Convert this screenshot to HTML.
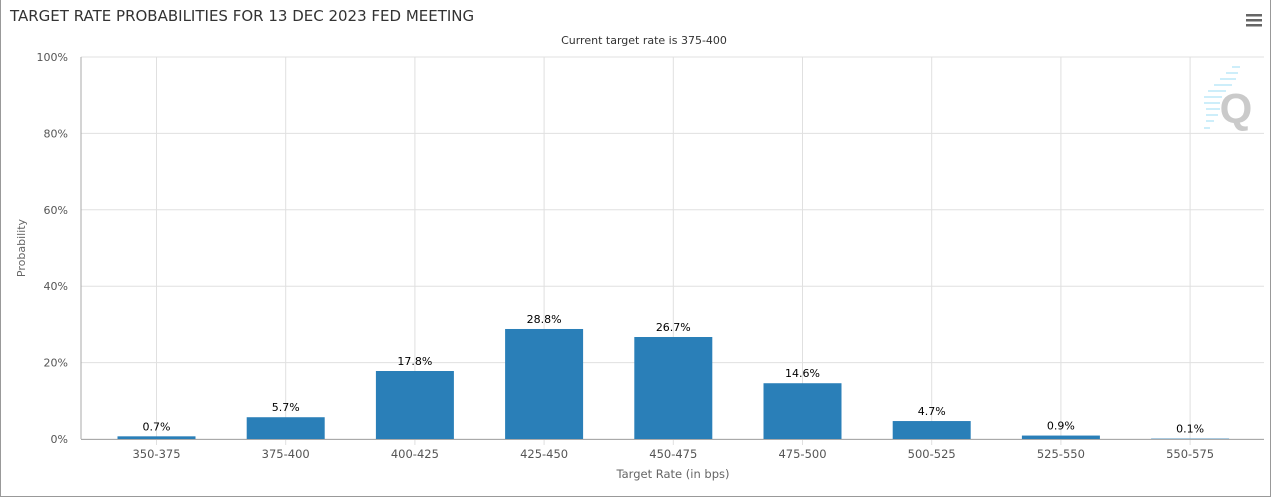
<!DOCTYPE html>
<html><head><meta charset="utf-8"><style>
body{margin:0;background:#fff;font-family:"DejaVu Sans","Liberation Sans",sans-serif;}
#wrap{position:absolute;left:0;top:0;width:1269px;height:496px;border-left:1px solid #999;border-right:1px solid #999;border-bottom:1px solid #999;border-top:0;}
</style></head><body>
<div id="wrap"></div>
<svg id="c" width="1275" height="500" style="position:absolute;left:0;top:0">
<text x="10" y="21" font-size="15" fill="#333">TARGET RATE PROBABILITIES FOR 13 DEC 2023 FED MEETING</text>
<text x="644" y="44" font-size="11" fill="#333" text-anchor="middle">Current target rate is 375-400</text>
<g>
<rect x="1246" y="14" width="16" height="2.5" fill="#666"/><rect x="1246" y="19" width="16" height="2.5" fill="#666"/><rect x="1246" y="24" width="16" height="2.5" fill="#666"/>
</g>
<g id="grid"></g>
<g>
<g stroke="#cdeefa" stroke-width="2">
<line x1="1232" y1="67" x2="1240" y2="67"/><line x1="1226" y1="73" x2="1238" y2="73"/><line x1="1220" y1="79" x2="1236" y2="79"/><line x1="1214" y1="85" x2="1232" y2="85"/><line x1="1208" y1="91" x2="1226" y2="91"/><line x1="1204" y1="97" x2="1222" y2="97"/><line x1="1204" y1="103" x2="1220" y2="103"/><line x1="1206" y1="109" x2="1220" y2="109"/><line x1="1206" y1="115" x2="1218" y2="115"/><line x1="1206" y1="121" x2="1214" y2="121"/><line x1="1204" y1="128" x2="1210" y2="128"/>
</g>
<text x="1236" y="123" font-size="42" font-weight="bold" fill="#cacaca" text-anchor="middle" font-family="Liberation Sans, sans-serif">Q</text>
</g>
<g id="bars"></g>
<text x="25" y="248" font-size="11" fill="#666" text-anchor="middle" transform="rotate(-90 25 248)">Probability</text>
<text x="673" y="478" font-size="11.5" fill="#666" text-anchor="middle">Target Rate (in bps)</text>
</svg>
<script>
const categories=["350-375","375-400","400-425","425-450","450-475","475-500","500-525","525-550","550-575"];
const values=[0.7,5.7,17.8,28.8,26.7,14.6,4.7,0.9,0.1];
const yTicks=[0,20,40,60,80,100];
const NS="http://www.w3.org/2000/svg";
const L=81,R=1264,T=57,B=439;
const y=v=>B-(v/100)*(B-T);
const x=i=>156.5+i*129.2;
const grid=document.getElementById('grid'),bars=document.getElementById('bars');
function mk(p,tag,a){const e=document.createElementNS(NS,tag);for(const k in a)e.setAttribute(k,a[k]);p.appendChild(e);return e;}
yTicks.forEach(t=>{
 const l=mk(grid,'line',{x1:L,x2:R,y1:y(t),y2:y(t),stroke:'#e0e0e0'});
 
 
 const tx=mk(grid,'text',{x:L-13,y:y(t)+4,'font-size':11,fill:'#555','text-anchor':'end'});
 tx.textContent=t+'%';
 
 
});
categories.forEach((c,i)=>{
 const l=mk(grid,'line',{x1:x(i),x2:x(i),y1:T,y2:B+6,stroke:'#e0e0e0'});
 
 
 const tx=mk(grid,'text',{x:x(i),y:B+19,'font-size':11.5,fill:'#555','text-anchor':'middle'});
 tx.textContent=c;
 
 
});
const ax=mk(grid,'line',{x1:L,x2:L,y1:T,y2:B,stroke:'#aaa'});


const bx=mk(grid,'line',{x1:L,x2:R,y1:B+0.5,y2:B+0.5,stroke:'#aaa'});


values.forEach((v,i)=>{
 const r=mk(bars,'rect',{x:x(i)-39,y:y(v),width:78,height:B-y(v),fill:'#2a7fb8'});
 
 
 const t=mk(bars,'text',{x:x(i),y:y(v)-6,'font-size':11,fill:'#000','text-anchor':'middle'});
 t.textContent=v.toFixed(1)+'%';
 
 
});
</script>
</body></html>
